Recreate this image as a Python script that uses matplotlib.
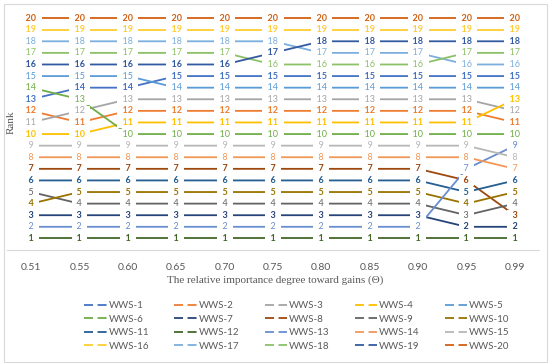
import matplotlib.pyplot as plt
from matplotlib.lines import Line2D
from matplotlib.patches import Rectangle

theta = ['0.51', '0.55', '0.60', '0.65', '0.70', '0.75', '0.80', '0.85', '0.90', '0.95', '0.99']

wws_1 = [13, 14, 14, 15, 15, 15, 15, 15, 15, 15, 15]
wws_2 = [12, 11, 12, 12, 12, 12, 12, 12, 12, 12, 11]
wws_3 = [11, 12, 13, 13, 13, 13, 13, 13, 13, 13, 12]
wws_4 = [10, 10, 11, 11, 11, 11, 11, 11, 11, 11, 13]
wws_5 = [15, 15, 15, 14, 14, 14, 14, 14, 14, 14, 14]
wws_6 = [14, 13, 10, 10, 10, 10, 10, 10, 10, 10, 10]
wws_7 = [3, 3, 3, 3, 3, 3, 3, 3, 3, 2, 2]
wws_8 = [7, 7, 7, 7, 7, 7, 7, 7, 7, 6, 3]
wws_9 = [5, 4, 4, 4, 4, 4, 4, 4, 4, 3, 4]
wws_10 = [4, 5, 5, 5, 5, 5, 5, 5, 5, 4, 5]
wws_11 = [6, 6, 6, 6, 6, 6, 6, 6, 6, 5, 6]
wws_12 = [1, 1, 1, 1, 1, 1, 1, 1, 1, 1, 1]
wws_13 = [2, 2, 2, 2, 2, 2, 2, 2, 2, 7, 9]
wws_14 = [8, 8, 8, 8, 8, 8, 8, 8, 8, 8, 7]
wws_15 = [9, 9, 9, 9, 9, 9, 9, 9, 9, 9, 8]
wws_16 = [19, 19, 19, 19, 19, 19, 19, 19, 19, 19, 19]
wws_17 = [18, 18, 18, 18, 18, 18, 17, 17, 17, 16, 16]
wws_18 = [17, 17, 17, 17, 17, 16, 16, 16, 16, 17, 17]
wws_19 = [16, 16, 16, 16, 16, 17, 18, 18, 18, 18, 18]
wws_20 = [20, 20, 20, 20, 20, 20, 20, 20, 20, 20, 20]

series = [wws_1, wws_2, wws_3, wws_4, wws_5, wws_6, wws_7, wws_8, wws_9, wws_10,
          wws_11, wws_12, wws_13, wws_14, wws_15, wws_16, wws_17, wws_18, wws_19, wws_20]
names = [f'WWS-{i}' for i in range(1, 21)]

colors = ['#4472C4', '#ED7D31', '#A5A5A5', '#FFC000', '#5B9BD5', '#70AD47',
          '#264478', '#9E480E', '#636363', '#997300', '#255E91', '#43682B',
          '#698ED0', '#F1975A', '#B7B7B7', '#FFCD33', '#7CAFDD', '#8CC168',
          '#335AA1', '#D26012']
bold = [True, True, False, True, False, False, True, True, False, True,
        True, True, False, False, False, True, False, False, True, True]

fig = plt.figure(figsize=(5.5, 3.64), dpi=100)
fig.patches.append(Rectangle((3.5 / 550, 2 / 364), 543 / 550, 358 / 364,
                             transform=fig.transFigure, fill=False,
                             edgecolor='#D9D9D9', lw=0.8))
ax = fig.add_axes([7 / 550, 114 / 364, 532 / 550, 243.5 / 364])

x = list(range(len(theta)))
for ys, c, b in zip(series, colors, bold):
    ax.plot(x, ys, color=c, lw=1.3, zorder=2)
    for xi, yi in zip(x, ys):
        # spaces give the horizontal gap, a thin box hides the line behind
        ax.text(xi, yi, f'  {yi}  ', color=c, fontsize=6.5, family='Lato',
                fontweight='bold' if b else 'normal',
                ha='center', va='center', zorder=3,
                bbox=dict(facecolor='white', edgecolor='none', pad=0.6))

ax.set_xlim(-0.5, 10.5)
ax.set_ylim(0, 21)
ax.set_yticks([])
ax.set_xticks(x)
ax.set_xticklabels(theta, family='Lato', fontsize=7.5, color='#595959')
ax.tick_params(axis='x', length=0, pad=9)
for s in ['top', 'left', 'right']:
    ax.spines[s].set_visible(False)
ax.spines['bottom'].set_color('#D9D9D9')

fig.text(0.5, 1 - 280 / 364, 'The relative importance degree toward gains (\u0398)',
         ha='center', va='center', family='Liberation Serif', fontsize=8, color='#595959')
fig.text(11 / 550, 1 - 122 / 364, 'Rank', rotation=90, ha='center', va='center',
         family='Liberation Serif', fontsize=8, color='#595959')

handles = [Line2D([], [], color=c, lw=1.3, linestyle=(0, (5, 2.5))) for c in colors]
order = [r * 5 + c for c in range(5) for r in range(4)]
leg = fig.legend([handles[i] for i in order], [names[i] for i in order],
                 ncol=5, loc='center', bbox_to_anchor=(0.54, 1 - 326 / 364),
                 frameon=False, prop={'family': 'Lato', 'size': 7},
                 handlelength=2.3, handletextpad=0.2, columnspacing=2.6,
                 labelspacing=0.45)
for t in leg.get_texts():
    t.set_color('#595959')

fig.savefig('out.png', dpi=100)
